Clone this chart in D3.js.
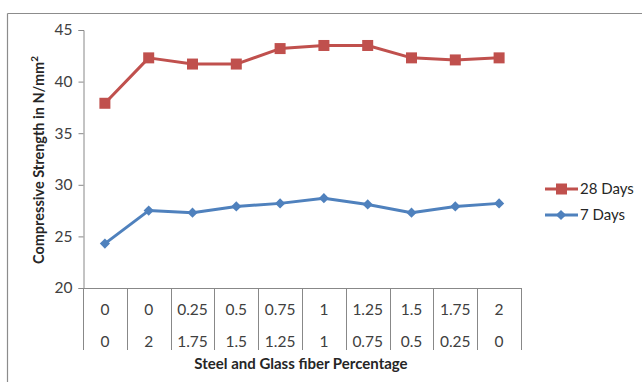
<!DOCTYPE html>
<html>
<head>
<meta charset="utf-8">
<script src="https://cdn.jsdelivr.net/npm/d3@7"></script>
<style>
  html, body { margin: 0; padding: 0; background: #fff; }
  svg { display: block; }
  text { font-family: Lato, "Open Sans", "Liberation Sans", sans-serif; }
</style>
</head>
<body>
<svg id="chart" width="642" height="382"></svg>
<script>
const steelPct = ["0", "0", "0.25", "0.5", "0.75", "1", "1.25", "1.5", "1.75", "2"];
const glassPct = ["0", "2", "1.75", "1.5", "1.25", "1", "0.75", "0.5", "0.25", "0"];
const days28 = [37.9, 42.3, 41.7, 41.7, 43.2, 43.5, 43.5, 42.3, 42.1, 42.3];
const days7 = [24.3, 27.5, 27.3, 27.9, 28.2, 28.7, 28.1, 27.3, 27.9, 28.2];
const yTicks = [20, 25, 30, 35, 40, 45];
const seriesNames = ["28 Days", "7 Days"];

const svg = d3.select("#chart");
const red = "#C0504D", blue = "#4F81BD";

// outer frame (top and left visible)
svg.append("line").attr("x1", 7.5).attr("x2", 642).attr("y1", 13.5).attr("y2", 13.5)
  .attr("stroke", "#8c8c8c").attr("stroke-width", 1.2);
svg.append("line").attr("x1", 7.5).attr("x2", 7.5).attr("y1", 13.5).attr("y2", 382)
  .attr("stroke", "#8c8c8c").attr("stroke-width", 1.2);

const idx = d3.range(steelPct.length);
const x = d3.scaleBand().domain(idx).range([83, 521]);
const y = d3.scaleLinear().domain([20, 45]).range([288, 30]);

// y axis
const yAxis = d3.axisLeft(y).tickValues(yTicks).tickSize(5).tickPadding(6);
const gy = svg.append("g").attr("transform", "translate(83.5,0)").call(yAxis);
gy.select(".domain").attr("stroke", "#888");
gy.selectAll(".tick line").attr("stroke", "#888");
gy.selectAll(".tick text").attr("font-size", 15.5).attr("fill", "#404040");

// x axis baseline
svg.append("line").attr("x1", 83).attr("x2", 521).attr("y1", 288.5).attr("y2", 288.5)
  .attr("stroke", "#888");
// category table separators
const bounds = idx.map(i => x(i)).concat([x.range()[1]]);
svg.selectAll(".sep").data(bounds).enter().append("line")
  .attr("x1", d => Math.round(d) + 0.5).attr("x2", d => Math.round(d) + 0.5)
  .attr("y1", 288).attr("y2", 350)
  .attr("stroke", "#888");

svg.selectAll(".row1").data(steelPct).enter().append("text")
  .attr("x", (d, i) => x(i) + x.bandwidth() / 2).attr("y", 314.5)
  .attr("text-anchor", "middle").attr("font-size", 15.5).attr("fill", "#404040")
  .text(d => d);
svg.selectAll(".row2").data(glassPct).enter().append("text")
  .attr("x", (d, i) => x(i) + x.bandwidth() / 2).attr("y", 346.5)
  .attr("text-anchor", "middle").attr("font-size", 15.5).attr("fill", "#404040")
  .text(d => d);

// axis titles
svg.append("text").attr("x", 301).attr("y", 368.5).attr("text-anchor", "middle")
  .attr("font-size", 15).attr("font-weight", "bold").attr("fill", "#262626")
  .text("Steel and Glass fiber Percentage");
const yt = svg.append("text").attr("transform", "translate(44,160) rotate(-90)")
  .attr("text-anchor", "middle").attr("font-size", 14.5).attr("font-weight", "bold").attr("fill", "#262626");
yt.append("tspan").text("Compressive Strength in N/mm");
yt.append("tspan").attr("dy", -6).attr("font-size", 10).text("2");

const cx = i => x(i) + x.bandwidth() / 2;
const line = d3.line().x((d, i) => cx(i)).y(d => y(d));

// 7 days
svg.append("path").datum(days7).attr("d", line).attr("fill", "none")
  .attr("stroke", blue).attr("stroke-width", 3).attr("stroke-linejoin", "round");
const diamond = d3.symbol().type(d3.symbolSquare).size(52);
svg.selectAll(".d7").data(days7).enter().append("path")
  .attr("d", diamond).attr("transform", (d, i) => `translate(${cx(i)},${y(d)}) rotate(45)`)
  .attr("fill", blue);

// 28 days
svg.append("path").datum(days28).attr("d", line).attr("fill", "none")
  .attr("stroke", red).attr("stroke-width", 3).attr("stroke-linejoin", "round");
svg.selectAll(".d28").data(days28).enter().append("rect")
  .attr("x", (d, i) => cx(i) - 5.5).attr("y", d => y(d) - 5.5)
  .attr("width", 11).attr("height", 11).attr("fill", red);

// legend
const lg = svg.append("g");
const ly = [189, 215];
[red, blue].forEach((c, k) => {
  lg.append("line").attr("x1", 545).attr("x2", 578).attr("y1", ly[k]).attr("y2", ly[k])
    .attr("stroke", c).attr("stroke-width", 3);
  if (k === 0) {
    lg.append("rect").attr("x", 556).attr("y", ly[k] - 5.5).attr("width", 11).attr("height", 11).attr("fill", c);
  } else {
    lg.append("path").attr("d", diamond).attr("transform", `translate(561,${ly[k]}) rotate(45)`).attr("fill", c);
  }
  lg.append("text").attr("x", 580).attr("y", ly[k]).attr("dy", "0.35em")
    .attr("font-size", 15).attr("fill", "#262626").text(seriesNames[k]);
});
</script>
</body>
</html>
